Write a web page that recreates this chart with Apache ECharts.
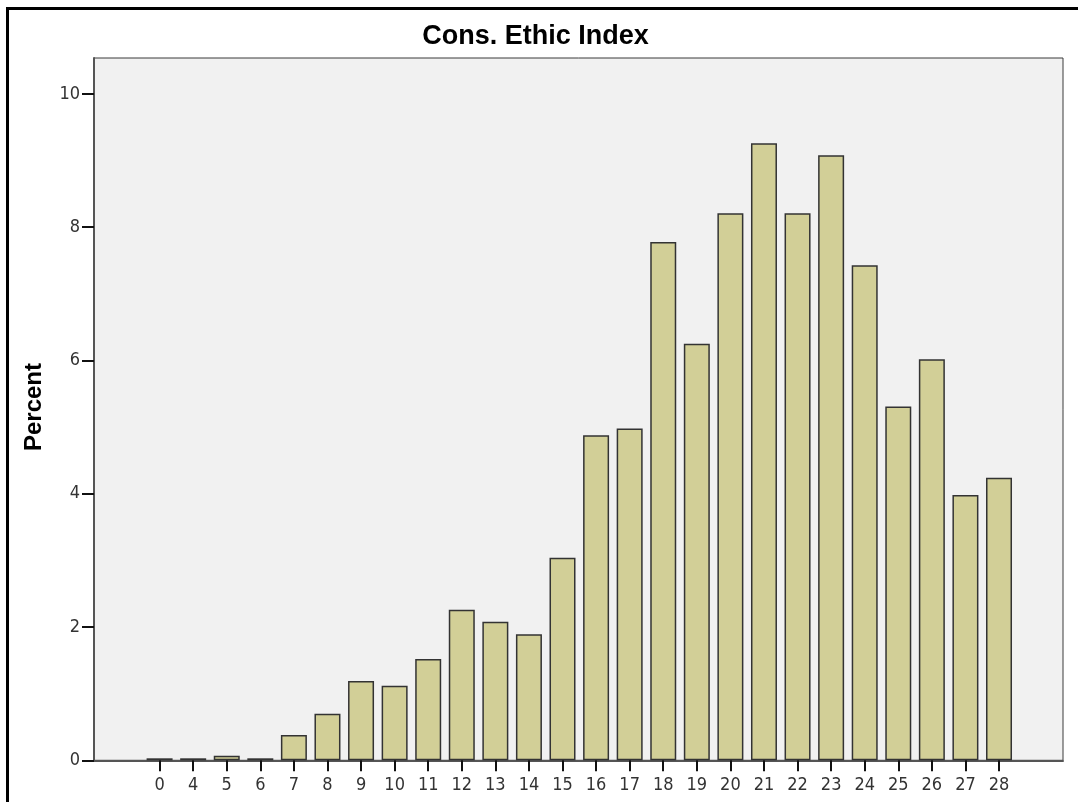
<!DOCTYPE html>
<html>
<head>
<meta charset="utf-8">
<script src="https://cdn.jsdelivr.net/npm/echarts@6/dist/echarts.min.js"></script>
<style>
html,body{margin:0;padding:0;background:#fff;}
#c{width:1078px;height:802px;}
</style>
</head>
<body>
<div id="c"></div>
<script>
var categories = ['0','4','5','6','7','8','9','10','11','12','13','14','15','16','17','18','19','20','21','22','23','24','25','26','27','28'];
var percentValues = [0.03,0.03,0.07,0.03,0.38,0.70,1.19,1.12,1.52,2.26,2.08,1.89,3.04,4.88,4.98,7.78,6.25,8.21,9.26,8.21,9.08,7.43,5.31,6.02,3.98,4.24];
var yTicks = [0,2,4,6,8,10];
var titleText = 'Cons. Ethic Index';
var yTitle = 'Percent';

var Y_MAX = 10.54;
var labelFont = "'Liberation Sans Narrow','Arial Narrow','DejaVu Sans Condensed','Liberation Sans',sans-serif";
var boldFont = "'Liberation Sans',Arial,sans-serif";

var chart = echarts.init(document.getElementById('c'), null, {renderer:'canvas'});
chart.setOption({
  animation: false,
  backgroundColor: '#ffffff',
  grid: [
    {left: 94, top: 58, width: 969, height: 702.3, show: true, backgroundColor: '#f1f1f1', borderColor: '#3a3a3a', borderWidth: 1, containLabel: false, outerBoundsMode: 'none'},
    {left: 142.8, top: 58, width: 873, height: 702.3, show: false, containLabel: false, outerBoundsMode: 'none'}
  ],
  xAxis: [
    {gridIndex: 0, type: 'value', min: 0, max: 1,
     axisLine: {show: true, onZero: false, lineStyle: {color: '#555', width: 2}},
     axisTick: {show: false}, axisLabel: {show: false}, splitLine: {show: false}},
    {gridIndex: 1, type: 'category', data: categories, boundaryGap: true,
     axisLine: {show: false},
     axisTick: {show: true, alignWithLabel: true, length: 11, lineStyle: {color: '#111', width: 2}},
     axisLabel: {show: true, interval: 0, margin: 16, color: '#333', fontSize: 18, fontFamily: labelFont},
     splitLine: {show: false}}
  ],
  yAxis: [
    {gridIndex: 0, type: 'value', min: 0, max: Y_MAX,
     axisLine: {show: true, lineStyle: {color: '#555', width: 2}},
     axisTick: {show: true, length: 12, customValues: yTicks, lineStyle: {color: '#111', width: 2}},
     axisLabel: {show: true, customValues: yTicks, margin: 14, color: '#333', fontSize: 18, fontFamily: labelFont},
     splitLine: {show: false}},
    {gridIndex: 1, type: 'value', min: 0, max: Y_MAX, show: false,
     splitLine: {show: false}}
  ],
  series: [{
    type: 'bar',
    xAxisIndex: 1, yAxisIndex: 1,
    data: percentValues,
    barWidth: 26,
    itemStyle: {color: '#d2cf97', borderColor: '#333', borderWidth: 1.5}
  }],
  graphic: [
    {type: 'rect', silent: true, z: 100,
     shape: {x: 7.5, y: 8.5, width: 1200, height: 1000},
     style: {fill: 'none', stroke: '#000', lineWidth: 3}},
    {type: 'text', x: 535.5, y: 37, z: 100,
     style: {text: titleText, font: 'bold 27px ' + boldFont, fill: '#000', align: 'center', verticalAlign: 'middle'}},
    {type: 'text', x: 34, y: 407, rotation: Math.PI / 2, z: 100,
     style: {text: yTitle, font: 'bold 24px ' + boldFont, fill: '#000', align: 'center', verticalAlign: 'middle'}}
  ]
});
</script>
</body>
</html>
